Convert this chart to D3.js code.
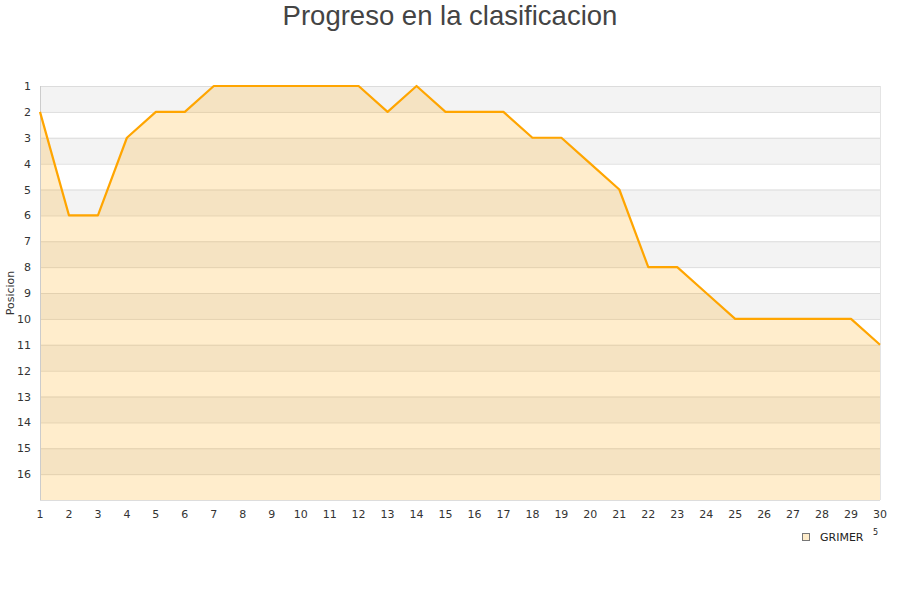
<!DOCTYPE html>
<html><head><meta charset="utf-8">
<script src="https://cdn.jsdelivr.net/npm/d3@7"></script>
<style>body{margin:0;background:#fff;}svg{display:block;}</style>
</head><body>
<svg id="c" width="900" height="600"></svg>
<script>
const jornadas = [1,2,3,4,5,6,7,8,9,10,11,12,13,14,15,16,17,18,19,20,21,22,23,24,25,26,27,28,29,30];
const posiciones = [2,6,6,3,2,2,1,1,1,1,1,1,2,1,2,2,2,3,3,4,5,8,8,9,10,10,10,10,10,11];
const yTicks = [1,2,3,4,5,6,7,8,9,10,11,12,13,14,15,16];
const seriesName = "GRIMER";
const titleText = "Progreso en la clasificacion";
const yLabel = "Posicion";

const svg = d3.select("#c");
const x = d3.scaleLinear().domain([1,30]).range([40,880]);
const y = d3.scaleLinear().domain([1,17]).range([86,500]);

// bands
const bands = d3.range(1,17);
svg.append("g").selectAll("rect").data(bands).join("rect")
  .attr("x", x(1)).attr("width", x(30)-x(1))
  .attr("y", d=>y(d)).attr("height", d=>y(d+1)-y(d))
  .attr("fill", d=> d%2===1 ? "#f3f3f3" : "#ffffff");

// grid lines
svg.append("g").selectAll("line").data(d3.range(1,18)).join("line")
  .attr("x1", x(1)).attr("x2", x(30))
  .attr("y1", d=>y(d)+0.5).attr("y2", d=>y(d)+0.5)
  .attr("stroke", "#dcdcdc").attr("stroke-width",1);

// area
const data = jornadas.map((j,i)=>({j, p: posiciones[i]}));
svg.append("path").datum(data)
  .attr("d", d3.area().x(d=>x(d.j)).y0(y(17)).y1(d=>y(d.p)))
  .attr("fill", "rgba(255,165,0,0.2)");

// plot borders
svg.append("line").attr("x1", x(1)+0.5).attr("x2", x(1)+0.5).attr("y1", y(1)).attr("y2", y(17))
  .attr("stroke","#ccc");
svg.append("line").attr("x1", x(30)+0.5).attr("x2", x(30)+0.5).attr("y1", y(1)).attr("y2", y(17))
  .attr("stroke","#e4e4e4");
svg.append("line").attr("x1", x(1)).attr("x2", x(30)).attr("y1", y(17)+0.5).attr("y2", y(17)+0.5)
  .attr("stroke","#ddd");

// line
svg.append("path").datum(data)
  .attr("d", d3.line().x(d=>x(d.j)).y(d=>y(d.p)))
  .attr("fill","none").attr("stroke","#ffa500").attr("stroke-width",2.2)
  .attr("stroke-linejoin","round");

// y axis labels
svg.append("g").selectAll("text").data(yTicks).join("text")
  .attr("x", 31).attr("y", d=>y(d)+4)
  .attr("text-anchor","end").attr("font-family","DejaVu Sans, sans-serif")
  .attr("font-size", 11).attr("fill","#333").text(d=>d);

// x axis labels
svg.append("g").selectAll("text").data(jornadas).join("text")
  .attr("x", d=>x(d)).attr("y", 518)
  .attr("text-anchor","middle").attr("font-family","DejaVu Sans, sans-serif")
  .attr("font-size", 11).attr("fill","#333").text(d=>d);

// y label
svg.append("text").attr("transform","translate(14,293) rotate(-90)")
  .attr("text-anchor","middle").attr("font-family","DejaVu Sans, sans-serif")
  .attr("font-size", 11).attr("fill","#333").text(yLabel);

// title
svg.append("text").attr("x", 450).attr("y", 25)
  .attr("text-anchor","middle").attr("font-family","Liberation Sans, Arial, sans-serif")
  .attr("font-size", 27.5).attr("fill","#444").text(titleText);

// legend
svg.append("rect").attr("x", 802.5).attr("y", 533.5).attr("width",7).attr("height",7)
  .attr("fill","#feecca").attr("stroke","#777").attr("stroke-width",1);
svg.append("text").attr("x", 820).attr("y", 541)
  .attr("font-family","DejaVu Sans, sans-serif").attr("font-size", 11).attr("fill","#222").text(seriesName);
svg.append("text").attr("x", 873).attr("y", 535)
  .attr("font-family","DejaVu Sans, sans-serif").attr("font-size", 8).attr("fill","#222").text("5");
</script>
</body></html>
